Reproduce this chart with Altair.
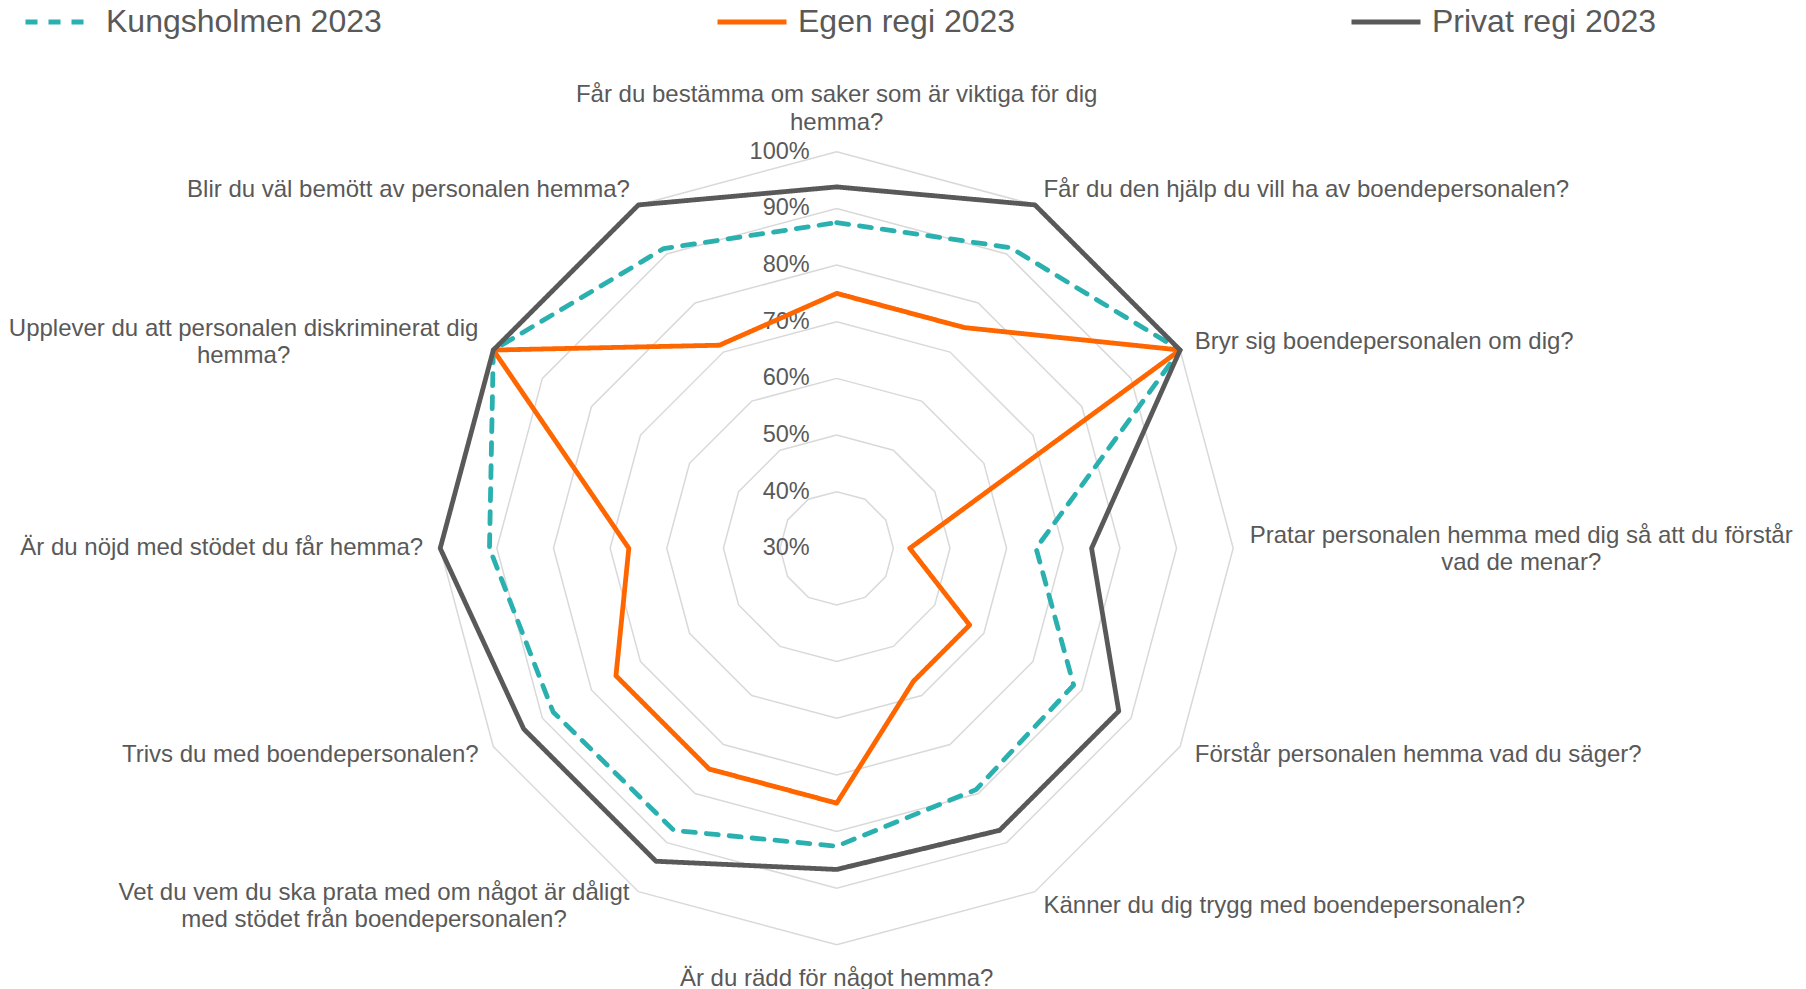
import altair as alt
import pandas as pd

# ---------------- data ----------------
CATEGORIES = [
    "Får du bestämma om saker som är viktiga för dig\nhemma?",
    "Får du den hjälp du vill ha av boendepersonalen?",
    "Bryr sig boendepersonalen om dig?",
    "Pratar personalen hemma med dig så att du förstår\nvad de menar?",
    "Förstår personalen hemma vad du säger?",
    "Känner du dig trygg med boendepersonalen?",
    "Är du rädd för något hemma?",
    "Vet du vem du ska prata med om något är dåligt\nmed stödet från boendepersonalen?",
    "Trivs du med boendepersonalen?",
    "Är du nöjd med stödet du får hemma?",
    "Upplever du att personalen diskriminerat dig\nhemma?",
    "Blir du väl bemött av personalen hemma?",
]
SERIES = ["Kungsholmen 2023", "Egen regi 2023", "Privat regi 2023"]
KUNGSHOLMEN = [87.5, 91.3, 100, 65.2, 78.3, 79.2, 82.6, 87.5, 87.8, 91.3, 100, 91.1]
EGEN = [75.0, 75.0, 100, 42.9, 57.1, 57.1, 75.0, 75.0, 75.0, 66.7, 100, 71.4]
PRIVAT = [93.8, 100, 100, 75.0, 87.5, 87.5, 86.7, 93.8, 93.8, 100, 100, 100]
TICKS = [30, 40, 50, 60, 70, 80, 90, 100]

# ---------------- style / layout ----------------
COLORS = ["#2BB0B0", "#FF6600", "#595959"]
DASHES = [[12, 11], [1, 0], [1, 0]]
TEXT_COLOR = "#595959"
GRID_COLOR = "#D9D9D9"
FONT = "Liberation Sans"
W, H = 1790, 981
CX, CY, R = 828.7, 540.3, 396.5
GAP = 17 / R
LINE_H = 27.5
N = len(CATEGORIES)
RMIN, RMAX = TICKS[0], TICKS[-1]

xs = alt.Scale(domain=[-CX / R, (W - CX) / R], nice=False, zero=False)
ys = alt.Scale(domain=[-(H - CY) / R, CY / R], nice=False, zero=False)

# ---------------- tables ----------------
rows = []
for s, vals in zip(SERIES, [KUNGSHOLMEN, EGEN, PRIVAT]):
    for i in range(N + 1):
        rows.append({"series": s, "idx": i, "value": vals[i % N]})
df_lines = pd.DataFrame(rows)

df_rings = pd.DataFrame(
    [{"level": lv, "idx": i, "value": lv} for lv in TICKS[1:] for i in range(N + 1)]
)
df_ticks = pd.DataFrame({"value": TICKS, "label": [f"{t}%" for t in TICKS]})
df_labels = pd.DataFrame({"idx": list(range(N)), "text": CATEGORIES})


def polar(chart):
    return chart.transform_calculate(
        ang=f"datum.idx * 2 * PI / {N}",
        rr=f"(datum.value - {RMIN}) / {RMAX - RMIN}",
    ).transform_calculate(
        px="datum.rr * sin(datum.ang)",
        py="datum.rr * cos(datum.ang)",
    )


rings = polar(alt.Chart(df_rings).mark_line(stroke=GRID_COLOR, strokeWidth=1.5)).encode(
    x=alt.X("px:Q", scale=xs, axis=None),
    y=alt.Y("py:Q", scale=ys, axis=None),
    detail="level:N",
    order="idx:Q",
)

lines = polar(
    alt.Chart(df_lines).mark_line(strokeWidth=4.8, strokeCap="round", strokeJoin="round")
).encode(
    x=alt.X("px:Q", scale=xs, axis=None),
    y=alt.Y("py:Q", scale=ys, axis=None),
    color=alt.Color("series:N", scale=alt.Scale(domain=SERIES, range=COLORS),
                    legend=alt.Legend(title=None)),
    strokeDash=alt.StrokeDash("series:N", scale=alt.Scale(domain=SERIES, range=DASHES),
                              legend=alt.Legend(title=None)),
    order="idx:Q",
)

ticks = alt.Chart(df_ticks).transform_calculate(
    px="0", py=f"(datum.value - {RMIN}) / {RMAX - RMIN}"
).mark_text(
    align="right", baseline="middle", dx=-27, fontSize=23.5, font=FONT, color=TEXT_COLOR
).encode(
    x=alt.X("px:Q", scale=xs, axis=None),
    y=alt.Y("py:Q", scale=ys, axis=None),
    text="label:N",
)

base_labels = alt.Chart(df_labels).transform_calculate(
    ang=f"datum.idx * 2 * PI / {N}",
).transform_calculate(
    px=f"(1 + {GAP}) * sin(datum.ang)",
    py=f"(1 + {GAP}) * cos(datum.ang)",
)


def label_layer(indices, **mark):
    return base_labels.transform_filter(
        alt.FieldOneOfPredicate(field="idx", oneOf=indices)
    ).mark_text(
        fontSize=24, font=FONT, color=TEXT_COLOR, lineBreak="\n", lineHeight=LINE_H, **mark
    ).encode(
        x=alt.X("px:Q", scale=xs, axis=None),
        y=alt.Y("py:Q", scale=ys, axis=None),
        text="text:N",
    )


label_layers = [
    label_layer([1, 2, 4, 5], align="left", baseline="middle"),
    label_layer([8, 9, 11], align="right", baseline="middle"),
    label_layer([0], align="center", baseline="bottom", dy=-LINE_H),
    label_layer([6], align="center", baseline="top", dy=5),
    label_layer([3], align="center", baseline="middle", dx=271, dy=-LINE_H / 2 + 1),
    label_layer([7], align="center", baseline="middle", dx=-256, dy=-LINE_H / 2),
    label_layer([10], align="center", baseline="middle", dx=-235, dy=-LINE_H / 2 + 1),
]

chart = alt.layer(rings, ticks, lines, *label_layers).properties(
    width=W, height=H, autosize=alt.AutoSizeParams(type="none"), padding=0
).configure_view(stroke=None).configure_legend(
    orient="none",
    legendX=15,
    legendY=-23,
    direction="horizontal",
    labelFontSize=32,
    labelFont=FONT,
    labelColor=TEXT_COLOR,
    symbolType="stroke",
    symbolSize=4761,
    symbolStrokeWidth=5,
    labelOffset=9,
    columnPadding=325,
    labelLimit=0,
)

chart.save("out.html", embed_options={"renderer": "svg", "actions": False})
